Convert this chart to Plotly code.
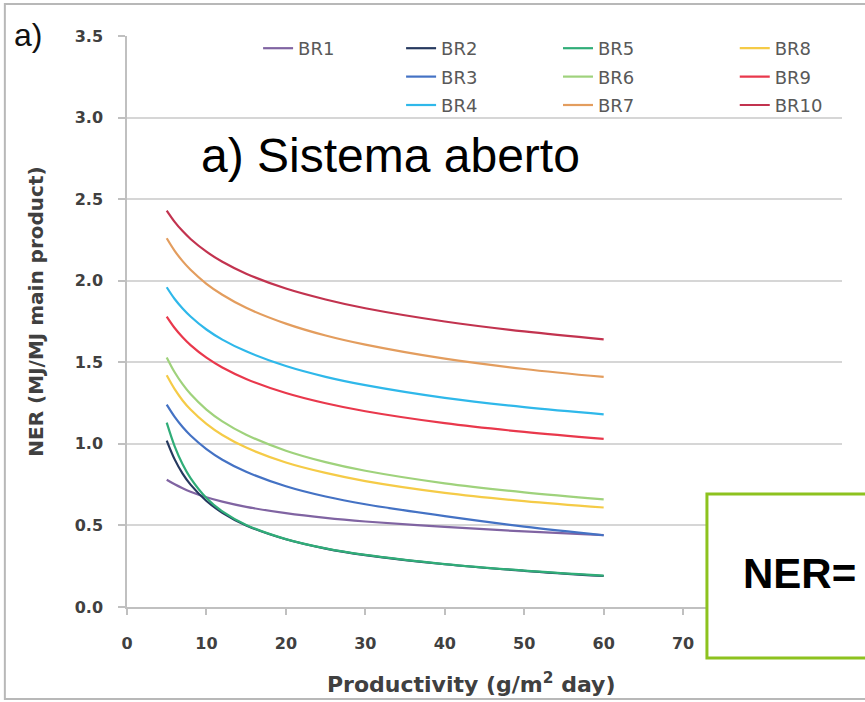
import plotly.graph_objects as go

# ---- data ----
productivity = [5, 6, 7, 8, 10, 12, 15, 20, 25, 30, 40, 50, 60]

BR1 = [0.780, 0.752, 0.728, 0.707, 0.673, 0.646, 0.614, 0.575, 0.546, 0.524, 0.491, 0.463, 0.440]
BR2 = [1.020, 0.905, 0.818, 0.750, 0.650, 0.578, 0.500, 0.415, 0.358, 0.318, 0.262, 0.222, 0.190]
BR3 = [1.240, 1.165, 1.103, 1.051, 0.968, 0.903, 0.829, 0.740, 0.677, 0.630, 0.557, 0.493, 0.440]
BR4 = [1.960, 1.888, 1.830, 1.781, 1.701, 1.639, 1.567, 1.477, 1.411, 1.360, 1.282, 1.225, 1.181]
BR5 = [1.130, 0.985, 0.875, 0.790, 0.668, 0.586, 0.503, 0.416, 0.359, 0.319, 0.263, 0.223, 0.192]
BR6 = [1.530, 1.439, 1.366, 1.305, 1.210, 1.138, 1.056, 0.958, 0.888, 0.835, 0.758, 0.703, 0.660]
BR7 = [2.260, 2.183, 2.120, 2.067, 1.981, 1.914, 1.834, 1.737, 1.664, 1.608, 1.522, 1.459, 1.410]
BR8 = [1.420, 1.335, 1.266, 1.210, 1.122, 1.054, 0.977, 0.886, 0.822, 0.772, 0.700, 0.649, 0.610]
BR9 = [1.780, 1.710, 1.653, 1.605, 1.528, 1.468, 1.398, 1.312, 1.249, 1.200, 1.127, 1.073, 1.030]
BR10 = [2.430, 2.361, 2.304, 2.256, 2.178, 2.116, 2.043, 1.952, 1.885, 1.831, 1.750, 1.689, 1.641]

series_names = ["BR1", "BR2", "BR3", "BR4", "BR5", "BR6", "BR7", "BR8", "BR9", "BR10"]
series_values = [BR1, BR2, BR3, BR4, BR5, BR6, BR7, BR8, BR9, BR10]
series_colors = ["#8064a2", "#26395f", "#4472c4", "#2fb8ea", "#30ad78",
                 "#9fd27c", "#e39d5e", "#f5cb47", "#e9384c", "#c2334f"]
series_legend = ["legend", "legend2", "legend2", "legend2", "legend3",
                 "legend3", "legend3", "legend4", "legend4", "legend4"]

x_ticks = [0, 10, 20, 30, 40, 50, 60, 70, 80, 90]
y_ticks = [0.0, 0.5, 1.0, 1.5, 2.0, 2.5, 3.0, 3.5]

# ---- layout geometry (pixels) ----
W, H = 865, 702
L, R, T, B = 127, 847, 36, 607
pw, ph = R - L, B - T


def px(xp):
    return (xp - L) / pw


def py(yp):
    return (B - yp) / ph


fig = go.Figure()
for name, vals, col, lg in zip(series_names, series_values, series_colors, series_legend):
    fig.add_trace(go.Scatter(
        x=productivity, y=vals, name=name, mode="lines",
        line=dict(color=col, width=2.2, shape="spline", smoothing=1.0),
        legend=lg, legendgroup=name,
    ))

tick_font = dict(family="DejaVu Sans", size=16, color="#404040", weight="bold")
title_font = dict(family="DejaVu Sans", size=20, color="#404040", weight="bold")
leg_font = dict(family="DejaVu Sans", size=18, color="#595959")

legend_common = dict(
    bgcolor="rgba(0,0,0,0)", borderwidth=0, font=leg_font,
    orientation="v", xanchor="left", yanchor="top", tracegroupgap=2,
    y=py(30),
)

fig.update_layout(
    width=W, height=H,
    margin=dict(l=L, r=W - R, t=T, b=H - B, pad=0),
    paper_bgcolor="white", plot_bgcolor="white",
    showlegend=True,
    legend=dict(x=px(259), **legend_common),
    legend2=dict(x=px(403), **legend_common),
    legend3=dict(x=px(561), **legend_common),
    legend4=dict(x=px(739), **legend_common),
    xaxis=dict(
        range=[0, 90], tickvals=x_ticks, ticktext=[str(v) for v in x_ticks],
        showgrid=False, zeroline=False,
        showline=True, linecolor="#c0c0c0", linewidth=1.5,
        ticks="outside", ticklen=6, tickcolor="#c0c0c0", tickwidth=1.5,
        tickfont=tick_font, ticklabelstandoff=15,
    ),
    yaxis=dict(
        range=[0, 3.5], tickvals=y_ticks, ticktext=[f"{v:.1f}" for v in y_ticks],
        showgrid=True, gridcolor="#d6d6d6", gridwidth=1.8, zeroline=False,
        showline=True, linecolor="#c0c0c0", linewidth=1.5,
        ticks="outside", ticklen=7, tickcolor="#c0c0c0", tickwidth=1.5,
        tickfont=tick_font, ticklabelstandoff=12,
    ),
)

annotations = [
    dict(text="Productivity (g/m<sup>2</sup> day)", x=px(473), y=py(683),
         xref="paper", yref="paper", xanchor="center", yanchor="middle",
         showarrow=False,
         font=dict(family="DejaVu Sans", size=22, color="#404040", weight="bold")),
    dict(text="NER (MJ/MJ main product)", x=px(35), y=py(312),
         xref="paper", yref="paper", xanchor="center", yanchor="middle",
         textangle=-90, showarrow=False, font=title_font),
    dict(text="a) Sistema aberto", x=px(200), y=py(184),
         xref="paper", yref="paper", xanchor="left", yanchor="bottom",
         showarrow=False,
         font=dict(family="Liberation Sans", size=48, color="#000000")),
    dict(text="a)", x=px(11), y=py(55),
         xref="paper", yref="paper", xanchor="left", yanchor="bottom",
         showarrow=False,
         font=dict(family="Liberation Sans", size=32, color="#111111")),
    dict(text="NER=", x=px(745), y=py(573),
         xref="paper", yref="paper", xanchor="left", yanchor="middle",
         showarrow=False,
         font=dict(family="Liberation Sans", size=42, color="#000000", weight="bold")),
]
fig.update_layout(annotations=annotations)

shapes = [
    # outer frame of the figure
    dict(type="rect", xref="paper", yref="paper",
         x0=px(4), x1=px(900), y0=py(699), y1=py(4),
         line=dict(color="#b8b8b8", width=2), fillcolor="rgba(0,0,0,0)",
         layer="below"),
    # formula box
    dict(type="rect", xref="paper", yref="paper",
         x0=px(711), x1=px(900), y0=py(658), y1=py(494),
         line=dict(color="#8dc21f", width=3), fillcolor="white",
         layer="above"),
]
fig.update_layout(shapes=shapes)

fig.write_html("out.html")
